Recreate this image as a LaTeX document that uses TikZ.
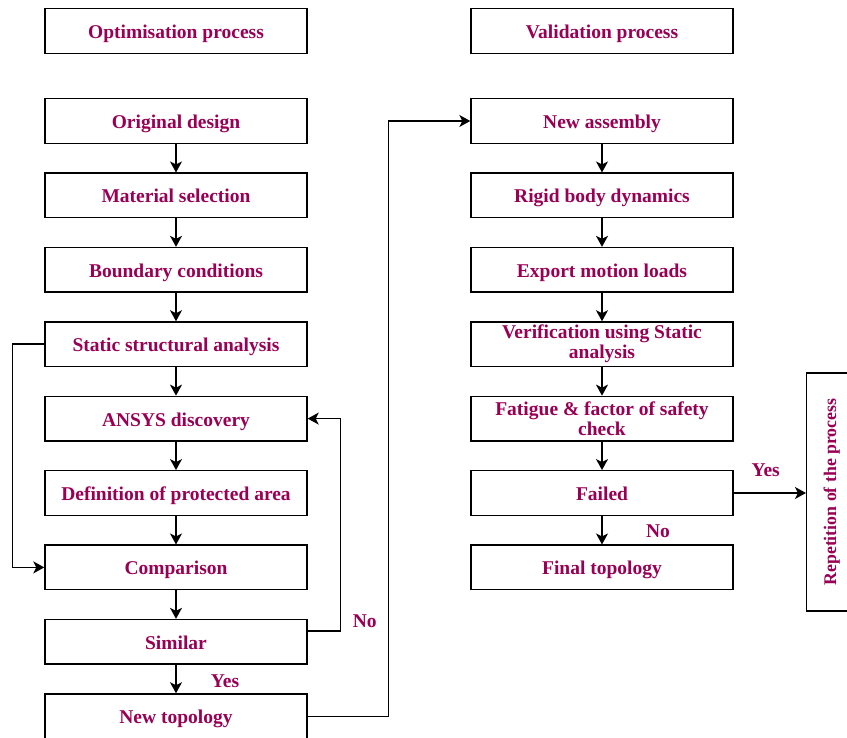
\documentclass[tikz,border=0pt]{standalone}
\usepackage{fontspec}
\setmainfont{Liberation Serif}
\usetikzlibrary{arrows.meta,positioning}
\definecolor{textplum}{RGB}{153,0,85}

\begin{document}
\begin{tikzpicture}[x=1pt,y=1pt,node distance=28.5pt,
boxbase/.style={draw,line width=1.4pt,minimum width=262pt,minimum height=44.5pt,inner sep=2pt,align=center,text=textplum,font=\fontsize{19.5}{20}\selectfont\bfseries},
box/.style={boxbase,text height=18pt,text depth=3pt},
lbl/.style={text=textplum,font=\fontsize{19.5}{20}\selectfont\bfseries},
arr/.style={-{Stealth[length=11pt,width=12pt,inset=3pt]},line width=1.4pt}]
\useasboundingbox (0,0) rectangle (847,-738);
% optimisation column
\node[box] (opt) at (176,-31) {Optimisation process};
\node[box] (orig) at (176,-121) {Original design};
\node[box,below=of orig] (mat) {Material selection};
\node[box,below=of mat] (bnd) {Boundary conditions};
\node[box,below=of bnd] (stat) {Static structural analysis};
\node[box,below=of stat] (ans) {ANSYS discovery};
\node[box,below=of ans] (prot) {Definition of protected area};
\node[box,below=of prot] (comp) {Comparison};
\node[box,below=of comp] (sim) {Similar};
\node[box,below=of sim] (newt) {New topology};
% validation column
\node[box] (val) at (602,-31) {Validation process};
\node[box] (asm) at (602,-121) {New assembly};
\node[box,below=of asm] (rigid) {Rigid body dynamics};
\node[box,below=of rigid] (export) {Export motion loads};
\node[boxbase,below=of export] (verif) {Verification using Static\\analysis};
\node[boxbase,below=of verif] (fat) {Fatigue \& factor of safety\\check};
\node[box,below=of fat] (fail) {Failed};
\node[box,below=of fail] (final) {Final topology};
\node[boxbase,rotate=90,minimum width=238pt,minimum height=50pt,anchor=north,font=\fontsize{17.8}{20}\selectfont\bfseries] (rep) at (806,-492) {Repetition of the process};
% arrows
\foreach \a/\b in {orig/mat,mat/bnd,bnd/stat,stat/ans,ans/prot,prot/comp,comp/sim,sim/newt,asm/rigid,rigid/export,export/verif,verif/fat,fat/fail,fail/final}
	\draw[arr] (\a) -- (\b);
\draw[arr] (stat.west) -- ++(-32,0) |- (comp.west);
\draw[arr] ([yshift=11pt]sim.east) -- ++(33,0) |- (ans.east);
\draw[arr] (newt.east) -- ++(81,0) |- (asm.west);
\draw[arr] (fail.east) -- (fail.east -| rep.north);
% labels
\node[lbl] (yesr) at ([xshift=32pt,yshift=23pt]fail.east) {Yes};
\node[lbl] (nor) at ([xshift=56pt,yshift=-15pt]fail.south) {No};
\node[lbl] (nol) at ([xshift=57pt,yshift=21pt]sim.east) {No};
\node[lbl] (yesl) at ([xshift=49pt,yshift=-16pt]sim.south) {Yes};
\end{tikzpicture}
\end{document}
